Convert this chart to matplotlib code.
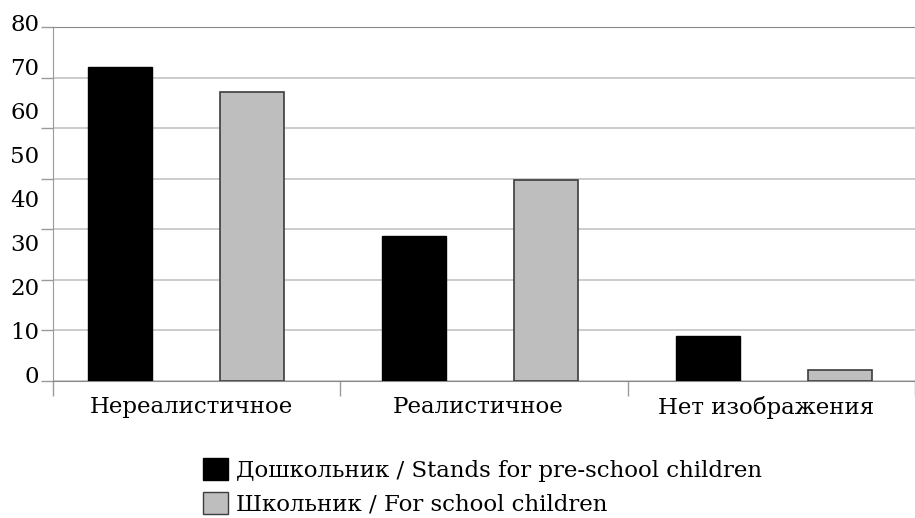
import matplotlib
matplotlib.use("Agg")
import matplotlib.pyplot as plt
from matplotlib.patches import Patch

# данные (в %)
categories = ["Нереалистичное", "Реалистичное", "Нет изображения"]
preschool = [62, 28.7, 8.9]
school = [57.2, 39.7, 2.2]
series_names = ["Дошкольник / Stands for pre-school children",
                "Школьник / For school children"]
# подписи оси y (как в оригинале, не совпадают с сеткой)
ytick_labels = ["0", "10", "20", "30", "40", "50", "60", "70", "80"]

plt.rcParams["font.family"] = ["DejaVu Serif"]
FS = 16.5

fig = plt.figure(figsize=(9.15, 5.18), dpi=100)
W, H = 915, 518
ax = fig.add_axes([53 / W, (H - 381) / H, (W - 53) / W, (381 - 27) / H])

x = list(range(len(categories)))
# столбцы в оригинале чуть разъезжаются относительно делений
pos = [1 + (i - 1) * 1.023 for i in x]
bw = 0.223
ax.bar([p - 0.243 for p in pos], preschool, bw, color="black", edgecolor="black",
       linewidth=1, zorder=3)
ax.bar([p + 0.215 for p in pos], school, bw, color="#bebebe", edgecolor="#3c3c3c",
       linewidth=1.2, zorder=3)

ax.set_xlim(-0.5, len(categories) - 0.5)
ax.set_ylim(0, 70)

# сетка и засечки
ax.set_yticks(range(0, 71, 10))
ax.set_yticklabels([])
ax.tick_params(axis="y", length=9, color="#9a9a9a", width=1)
ax.yaxis.grid(True, color="#c4c4c4", linewidth=1.2, zorder=0)

ax.set_xticks([i - 0.5 for i in x] + [len(x) - 0.5])
ax.set_xticklabels([])
ax.tick_params(axis="x", length=11, color="#9a9a9a", width=1)

ax.spines["right"].set_visible(False)
ax.spines["top"].set_color("#8a8a8a")
ax.spines["left"].set_color("#9a9a9a")
ax.spines["bottom"].set_color("#8a8a8a")

for k, lab in enumerate(ytick_labels):
    ax.text(-0.548, 0.8 + 8.7 * k, lab, ha="right", va="center",
            fontsize=FS, clip_on=False)

for i, c in enumerate(categories):
    ax.text(i - 0.02, -3.0, c, ha="center", va="top", fontsize=FS)

handles = [Patch(facecolor="black", edgecolor="black"),
           Patch(facecolor="#bebebe", edgecolor="#3c3c3c")]
fig.legend(handles, series_names, loc="upper left",
           bbox_to_anchor=(203 / W, 1 - 458 / H), frameon=False, fontsize=FS,
           handlelength=1.1, handleheight=1.1, handletextpad=0.35,
           labelspacing=0.45, borderpad=0, borderaxespad=0)

fig.savefig("out.png", dpi=100)
